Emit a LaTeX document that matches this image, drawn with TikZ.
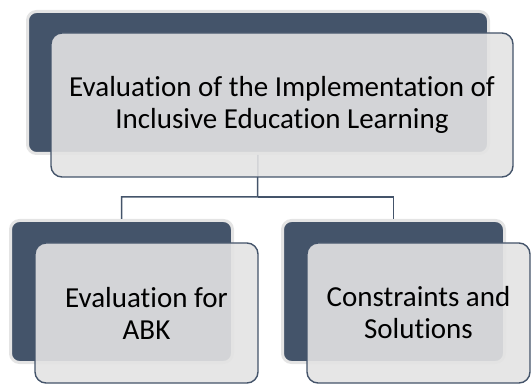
\documentclass[tikz,border=0pt]{standalone}
\usepackage{fontspec}
\setmainfont{Carlito}[Ligatures=NoCommon]
\definecolor{slate}{HTML}{44546A}
\definecolor{halo}{HTML}{E4E4E4}
\definecolor{pale}{HTML}{E3E3E3}
\tikzstyle{back}=[rectangle, rounded corners=9pt, fill=slate, draw=halo,
                  line width=3pt, minimum height=142pt]
\tikzstyle{front}=[rectangle, rounded corners=11pt, fill=pale, fill opacity=.9,
                   text opacity=1, draw=slate, line width=1.4pt, align=center,
                   inner sep=2pt, font=\fontsize{29}{32}\selectfont]
\tikzstyle{link}=[draw=slate, line width=1.5pt]
\begin{document}
\begin{tikzpicture}[x=1pt,y=-1pt]
      \useasboundingbox (0,0) rectangle (531,385);
      \node[back, minimum width=461pt] (evalback) at (258,82.5) {};
      \node[back, minimum width=222pt] (abkback) at (121.5,291.5) {};
      \node[back, minimum width=222pt] (consback) at (393.5,291.5) {};
      \coordinate (fork) at (257.5,197);
      \draw[link] (evalback.south) -- (fork) -| (abkback.north);
      \draw[link] (fork) -| (consback.north);
      \node[front, minimum width=462pt, minimum height=144pt] (eval) at (282,105)
	{Evaluation of the Implementation of\\Inclusive Education Learning};
      \node[front, minimum width=223pt, minimum height=140pt] (abk) at (146.5,313)
	{Evaluation for\\ABK};
      \node[front, minimum width=223pt, minimum height=140pt] (cons) at (418.5,313)
	{Constraints and\\Solutions};
    \end{tikzpicture}
\end{document}
